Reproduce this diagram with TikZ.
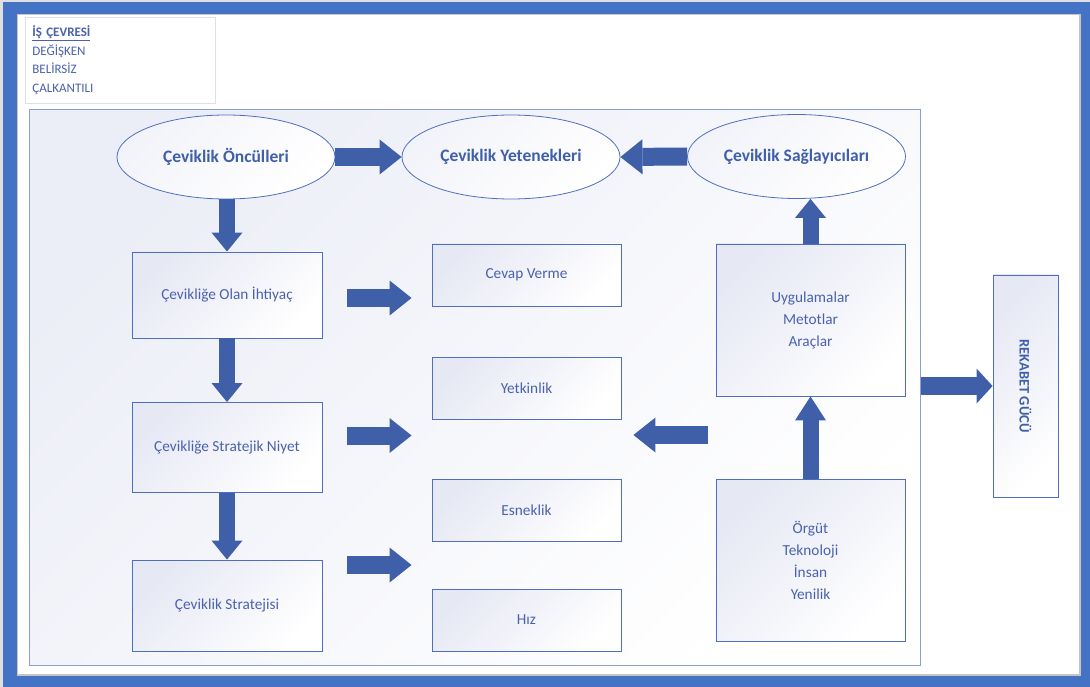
\documentclass[tikz,border=0pt]{standalone}
\usepackage{fontspec}
\setmainfont{Carlito}
\usetikzlibrary{arrows.meta,shapes.geometric,calc}
\definecolor{framblue}{HTML}{4472C4}
\definecolor{arrblue}{HTML}{3F5FA8}
\definecolor{txtblue}{HTML}{4A62AE}
\definecolor{edgeblue}{HTML}{4E6FBF}
\definecolor{paleblue}{HTML}{E6E8F4}
\definecolor{frametint}{HTML}{ECEEF7}
\definecolor{lineblue}{HTML}{8CA0D0}
\definecolor{legendedge}{HTML}{DCE0EE}

\begin{document}
\begin{tikzpicture}[x=1pt,y=-1pt,
  txt/.style={font=\fontsize{15.3}{22}\selectfont, text=txtblue},
  box/.style={draw=edgeblue, line width=0.9pt, top color=paleblue, bottom color=white,
    shading angle=45, txt, inner sep=0pt, align=center},
  oval/.style={ellipse, draw=edgeblue, line width=0.8pt, top color=paleblue!50, bottom color=white,
    shading angle=45, font=\bfseries\fontsize{17.5}{20}\selectfont, text=arrblue, inner sep=0pt,
    minimum width=218, minimum height=84},
  blk/.style={draw=arrblue, line width=18pt, -{Triangle[width=35pt,length=22pt,line width=0pt]}},
  blkv/.style={draw=arrblue, line width=16pt, -{Triangle[width=31pt,length=19pt,line width=0pt]}},
]
\useasboundingbox (0,0) rectangle (1090,687);

% page frame
\fill[gray!25] (0,0) rectangle (1090,687);
\fill[framblue] (3,2) rectangle (1090,687);
\filldraw[fill=white, draw=gray!45, line width=1.2pt] (17.5,14.5) rectangle (1080,675);

% business environment legend
\node[draw=legendedge, line width=0.8pt, anchor=north west, minimum width=190, minimum height=86,
  text width=176, inner xsep=7pt, inner ysep=0pt, align=left, text=txtblue,
  font=\fontsize{13}{18.5}\selectfont] (legend) at (25,17)
  {\textbf{\underline{İŞ ÇEVRESİ}}\\DEĞİŞKEN\\BELİRSİZ\\ÇALKANTILI};

% main frame
\node[draw=lineblue, line width=1pt, top color=frametint, bottom color=white, shading angle=45,
  minimum width=891, minimum height=555, inner sep=0pt] (frame) at (474.5,387.5) {};

% ovals
\node[oval] (oncul) at (226,157) {Çeviklik Öncülleri};
\node[oval] (yetenek) at (511,157) {Çeviklik Yetenekleri};
\node[oval] (saglayici) at (796.5,156.5) {Çeviklik Sağlayıcıları};

% left column
\node[box, minimum width=190, minimum height=86] (ihtiyac) at (227,295) {Çevikliğe Olan İhtiyaç};
\node[box, minimum width=190, minimum height=90] (niyet) at (227,447.5) {Çevikliğe Stratejik Niyet};
\node[box, minimum width=190, minimum height=91] (strateji) at (227,605.5) {Çeviklik Stratejisi};

% capabilities column
\node[box, minimum width=189, minimum height=62] (cevap) at (526.5,275) {Cevap Verme};
\node[box, minimum width=189, minimum height=62] (yetkinlik) at (526.5,388) {Yetkinlik};
\node[box, minimum width=189, minimum height=62] (esneklik) at (526.5,510) {Esneklik};
\node[box, minimum width=189, minimum height=62] (hiz) at (526.5,620) {Hız};

% enablers column
\node[box, minimum width=189, minimum height=152] (uygulama) at (810.5,320)
  {Uygulamalar\\Metotlar\\Araçlar};
\node[box, minimum width=189, minimum height=162] (orgut) at (810.5,560)
  {Örgüt\\Teknoloji\\İnsan\\Yenilik};

% competitive power
\node[box, minimum width=65, minimum height=222, text=arrblue,
  font=\bfseries\fontsize{14.5}{16}\selectfont] (rekabet) at (1025.5,386)
  {\rotatebox{-90}{REKABET GÜCÜ}};

% block arrows
\draw[blk] (oncul.east) -- (yetenek.west);
\draw[blk] (saglayici.west) -- (yetenek.east);
\draw[blkv] (ihtiyac.north |- oncul.south) -- (ihtiyac.north);
\draw[blkv] (ihtiyac.south) -- (niyet.north);
\draw[blkv] (niyet.south) -- (strateji.north);
\draw[blkv] (uygulama.north) -- (uygulama.north |- saglayici.south);
\draw[blkv, -{Triangle[width=31pt,length=24pt,line width=0pt]}] (orgut.north) -- (uygulama.south);

\draw[blk] ($(ihtiyac.east)+(25,3)$) -- ($(cevap.west |- ihtiyac.east)+(-20,3)$);
\draw[blk] ($(niyet.east)+(25,-12)$) -- ($(yetkinlik.west |- niyet.east)+(-20,-12)$);
\draw[blk] ($(strateji.east)+(25,-40.5)$) -- ($(esneklik.west |- strateji.east)+(-20,-40.5)$);
\draw[blk] ($(uygulama.west)+(-8,115)$) -- ($(yetkinlik.east)+(12,47)$);

\draw[blk, -{Triangle[width=35pt,length=16pt,line width=0pt]}] (frame.east |- rekabet.west) -- (rekabet.west);
\end{tikzpicture}
\end{document}
